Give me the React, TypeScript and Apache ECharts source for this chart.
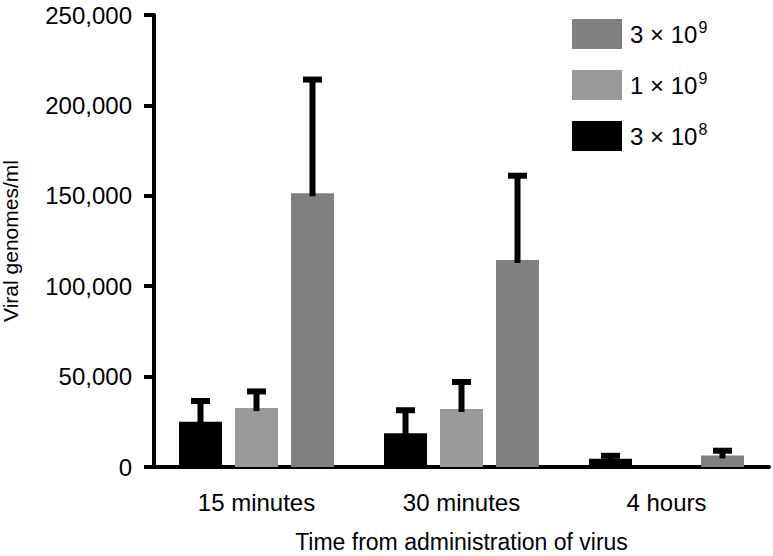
import React, { useEffect, useRef } from "react";
import * as echarts from "echarts";

const categories = ["15 minutes", "30 minutes", "4 hours"];
const doseNames = ["3e8", "1e9", "3e9"];
const doseBase: Record<string, string> = { "3e8": "3 × 10", "1e9": "1 × 10", "3e9": "3 × 10" };
const doseExp: Record<string, string> = { "3e8": "8", "1e9": "9", "3e9": "9" };
const legendOrder = ["3e9", "1e9", "3e8"];
const dose3e8Mean = [25000, 18600, 4500];
const dose3e8Err = [11500, 12800, 1700];
const dose1e9Mean = [32600, 32100, null];
const dose1e9Err = [9200, 14900, null];
const dose3e9Mean = [151400, 114500, 6400];
const dose3e9Err = [62900, 46600, 2600];
const yTicks = { min: 0, max: 250000, interval: 50000 };
const colors = ["#000000", "#999999", "#808080"];

const FONT = "Liberation Sans, Arial, Helvetica, sans-serif";
const BAR_W = 43;
const BAR_GAP = 13;

export default function App() {
  const ref = useRef<HTMLDivElement>(null);
  useEffect(() => {
    if (!ref.current) return;
    const chart = echarts.init(ref.current, null, { renderer: "svg" });
    const means = [dose3e8Mean, dose1e9Mean, dose3e9Mean];
    const errs = [dose3e8Err, dose1e9Err, dose3e9Err];

    const barSeries = doseNames.map((n, i) => ({
      name: n,
      type: "bar",
      data: means[i].map((v) => (v == null ? "-" : v)),
      barWidth: BAR_W,
      barGap: ((BAR_GAP / BAR_W) * 100).toFixed(1) + "%",
      itemStyle: { color: colors[i] },
      z: 2,
    }));

    const errSeries = doseNames.map((n, i) => {
      const offset = (i - 1) * (BAR_W + BAR_GAP);
      const data: number[][] = [];
      means[i].forEach((v, k) => {
        const e = errs[i][k];
        if (v != null && e != null) data.push([k, v, v + e]);
      });
      return {
        type: "custom",
        name: n + "-err",
        data,
        encode: { x: 0, y: [1, 2] },
        z: 5,
        silent: true,
        renderItem: (params: any, api: any) => {
          const idx = api.value(0);
          const v = api.value(1);
          const hi = api.value(2);
          const base = api.coord([idx, v]);
          const top = api.coord([idx, hi]);
          const x = base[0] + offset;
          return {
            type: "group",
            children: [
              {
                type: "line",
                shape: { x1: x, y1: base[1] + 3, x2: x, y2: top[1] },
                style: { stroke: "#000", lineWidth: 6 },
              },
              {
                type: "line",
                shape: { x1: x - 9.5, y1: top[1], x2: x + 9.5, y2: top[1] },
                style: { stroke: "#000", lineWidth: 6 },
              },
            ],
          };
        },
      };
    });

    chart.setOption({
      animation: false,
      backgroundColor: "#ffffff",
      grid: { left: 154, right: 4, top: 15, bottom: 89, containLabel: false, outerBoundsMode: "none" },
      legend: {
        data: legendOrder,
        orient: "vertical",
        left: 567,
        top: 14,
        itemWidth: 50,
        itemHeight: 30,
        itemGap: 21,
        icon: "rect",
        selectedMode: false,
        formatter: (name: string) => `{a|${doseBase[name]}}{b|${doseExp[name]}}`,
        textStyle: {
          padding: [0, 0, 0, 3],
          rich: {
            a: { fontSize: 24, fontFamily: FONT, color: "#000", lineHeight: 30 },
            b: { fontSize: 16, fontFamily: FONT, color: "#000", lineHeight: 14, verticalAlign: "top", padding: [0, 0, 0, 1] },
          },
        },
      },
      xAxis: {
        type: "category",
        data: categories,
        name: "Time from administration of virus",
        nameLocation: "middle",
        nameGap: 63,
        nameTextStyle: { fontSize: 23, fontFamily: FONT, color: "#000" },
        axisLine: { lineStyle: { color: "#000", width: 4 } },
        axisTick: { alignWithLabel: true, length: 10, lineStyle: { color: "#000", width: 4 } },
        axisLabel: { fontSize: 24, fontFamily: FONT, color: "#000", margin: 23 },
      },
      yAxis: {
        type: "value",
        min: yTicks.min,
        max: yTicks.max,
        interval: yTicks.interval,
        name: "Viral genomes/ml",
        nameLocation: "middle",
        nameGap: 133,
        nameTextStyle: { fontSize: 21, fontFamily: FONT, color: "#000" },
        axisLine: { show: true, lineStyle: { color: "#000", width: 4 } },
        axisTick: { show: true, length: 10, lineStyle: { color: "#000", width: 4 } },
        axisLabel: {
          fontSize: 24,
          fontFamily: FONT,
          color: "#000",
          margin: 22,
          formatter: (v: number) => v.toLocaleString("en-US"),
        },
        splitLine: { show: false },
      },
      series: [...barSeries, ...errSeries],
    });
    return () => chart.dispose();
  }, []);
  return <div ref={ref} style={{ width: 773, height: 556, position: "absolute", left: 0, top: 0 }} />;
}
